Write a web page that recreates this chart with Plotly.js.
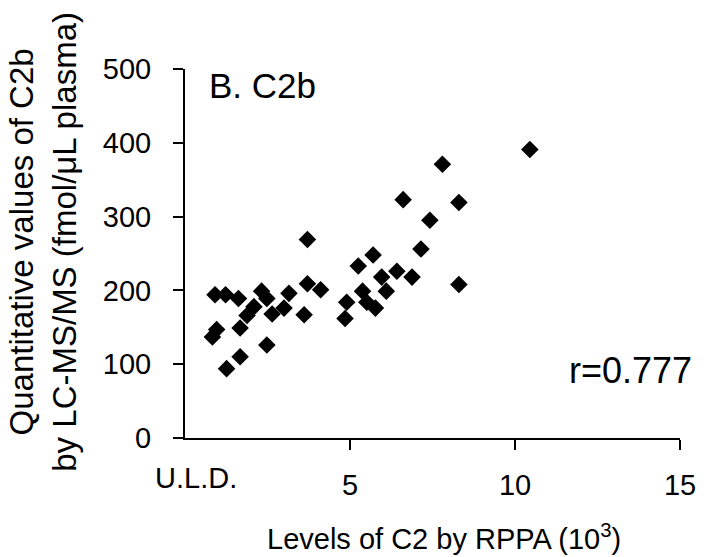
<!DOCTYPE html>
<html>
<head>
<meta charset="utf-8">
<script src="https://cdn.plot.ly/plotly-3.0.1.min.js"></script>
<style>html,body{margin:0;padding:0;background:#fff;}#chart{width:724px;height:557px;}</style>
</head>
<body>
<div id="chart"></div>
<script>
// Levels of C2 by RPPA (x 10^3) and quantitative LC-MS/MS values of C2b (fmol/uL plasma)
const rppaLevels = [0.91, 1.23, 1.62, 2.32, 2.48, 3.15, 2.09, 1.88, 1.67, 2.64, 3.00,
  0.96, 0.83, 2.48, 1.67, 1.26, 3.71, 3.71, 4.11, 3.61, 4.85, 4.90, 5.25, 5.38, 5.51,
  5.70, 5.77, 5.96, 6.10, 6.42, 6.61, 6.88, 7.15, 7.42, 7.80, 8.30, 8.30, 10.45];
const c2bValues = [194, 194, 189, 199, 189, 196, 178, 166, 149, 168, 176,
  147, 137, 126, 110, 94, 269, 209, 201, 167, 162, 184, 233, 199, 184,
  248, 176, 218, 199, 226, 323, 218, 256, 295, 371, 319, 208, 391];
const xTickVals = [5, 10, 15];
const xTickText = ["5", "10", "15"];
const yTickVals = [0, 100, 200, 300, 400, 500];
const panelLabel = "B. C2b";
const corrLabel = "r=0.777";
const uldLabel = "U.L.D.";
const xTitle = "Levels of C2 by RPPA (10<sup>3</sup>)";
const yTitle = "Quantitative values of C2b<br>by LC-MS/MS (fmol/μL plasma)";

const FONT = "Liberation Sans, Arial, sans-serif";

const trace = {
  x: rppaLevels, y: c2bValues, type: "scatter", mode: "markers",
  marker: {symbol: "diamond", size: 13.5, color: "#000000", line: {width: 0}},
  hoverinfo: "skip"
};

const layout = {
  width: 724, height: 557,
  margin: {l: 185, r: 44, t: 69, b: 119, pad: 0},
  paper_bgcolor: "#ffffff", plot_bgcolor: "#ffffff",
  showlegend: false,
  font: {family: FONT, color: "#000000", size: 29},
  xaxis: {
    range: [0, 15], showgrid: false, zeroline: false,
    showline: true, linecolor: "#000", linewidth: 2,
    ticks: "outside", ticklen: 10, tickwidth: 2, tickcolor: "#000",
    tickvals: xTickVals, ticktext: xTickText,
    tickfont: {family: FONT, size: 29, color: "#000"},
    ticklabelstandoff: 10
  },
  yaxis: {
    range: [0, 500], showgrid: false, zeroline: false,
    showline: true, linecolor: "#000", linewidth: 2,
    ticks: "outside", ticklen: 10, tickwidth: 2, tickcolor: "#000",
    tickvals: yTickVals,
    tickfont: {family: FONT, size: 29, color: "#000"},
    ticklabelstandoff: 16
  },
  annotations: [
    {text: panelLabel, xref: "paper", yref: "paper", x: (262 - 185) / 495, y: (438 - 86) / 368.5,
     xanchor: "center", yanchor: "middle", showarrow: false, font: {family: FONT, size: 35}},
    {text: corrLabel, xref: "paper", yref: "paper", x: (630 - 185) / 495, y: (438 - 371) / 368.5,
     xanchor: "center", yanchor: "middle", showarrow: false, font: {family: FONT, size: 36}},
    {text: uldLabel, xref: "paper", yref: "paper", x: (196 - 185) / 495, y: (438 - 478) / 368.5,
     xanchor: "center", yanchor: "middle", showarrow: false, font: {family: FONT, size: 29}},
    {text: xTitle, xref: "paper", yref: "paper", x: (444 - 185) / 495, y: (438 - 537) / 368.5,
     xanchor: "center", yanchor: "middle", showarrow: false, font: {family: FONT, size: 29}},
    {text: yTitle, xref: "paper", yref: "paper", x: (43 - 185) / 495, y: (438 - 242) / 368.5,
     xanchor: "center", yanchor: "middle", showarrow: false, textangle: -90,
     font: {family: FONT, size: 33}}
  ]
};

Plotly.newPlot("chart", [trace], layout, {displayModeBar: false, staticPlot: true});
</script>
</body>
</html>
